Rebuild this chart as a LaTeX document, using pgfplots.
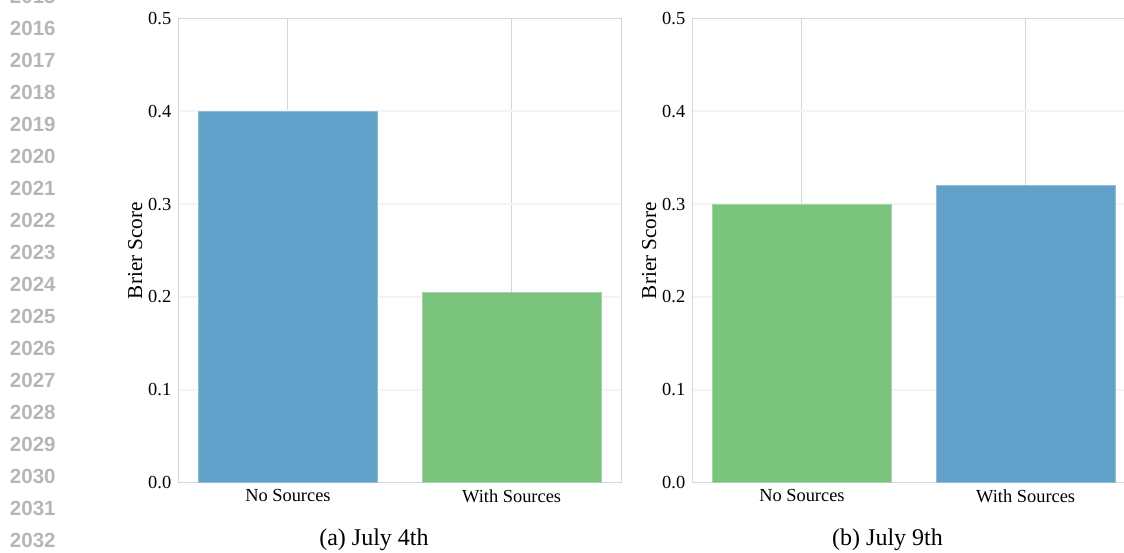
\documentclass[border=0pt]{standalone}
\usepackage{pgfplots}
\pgfplotsset{compat=1.18}
\usepackage{fontspec}
\setmainfont{Liberation Serif}
\newfontfamily\linenumfont{Liberation Sans}
\definecolor{barblue}{RGB}{98,161,201}
\definecolor{bargreen}{RGB}{121,195,125}
\definecolor{vgrid}{RGB}{214,214,214}
\definecolor{hgrid}{RGB}{244,244,244}
\definecolor{frame}{RGB}{214,214,214}
\definecolor{lnum}{RGB}{182,182,182}
\pgfplotsset{
  briers/.style={
    scale only axis,
    width=221.5pt, height=232.2pt,
    xmin=-0.49, xmax=1.49, ymin=0, ymax=0.5,
    xtick={0,1},
    xticklabels={No Sources, With Sources},
    ytick={0,0.1,0.2,0.3,0.4,0.5},
    yticklabel style={/pgf/number format/.cd, fixed, fixed zerofill, precision=1, assume math mode=true},
    ticklabel style={font=\fontsize{9.2}{10}\selectfont},
    major tick length=0pt,
    xmajorgrids, ymajorgrids,
    x grid style={color=vgrid, line width=0.5pt},
    y grid style={color=hgrid, line width=0.75pt},
    axis line style={color=frame, line width=0.6pt},
    ybar, bar width=0.8,
    ylabel={Brier Score},
    ylabel style={font=\fontsize{10.6}{12}\selectfont, at={(axis description cs:0,0.5)}, anchor=center, yshift=21.5pt},
  },
}
\begin{document}
\begin{tikzpicture}
\path[use as bounding box] (0,0) rectangle (562pt,276pt);
\clip (0,0) rectangle (562pt,276pt);
\foreach \k [count=\i from 0] in {2015,...,2032} {
  \node[anchor=base west, inner sep=0pt, text=lnum, font=\linenumfont\bfseries\fontsize{10.25}{12}\selectfont]
    at (4.8pt, {276pt - (18pt - 16pt + \i*15.975pt)}) {\k};
}
\begin{axis}[briers, at={(89.15pt,34.65pt)}, anchor=south west]
  \addplot[bar shift=0pt, fill=barblue, draw=barblue!70!white, line width=0.4pt] coordinates {(0,0.40)};
  \addplot[bar shift=0pt, fill=bargreen, draw=bargreen!70!white, line width=0.4pt] coordinates {(1,0.205)};
\end{axis}
\begin{axis}[briers, at={(346.15pt,34.65pt)}, anchor=south west]
  \addplot[bar shift=0pt, fill=bargreen, draw=bargreen!70!white, line width=0.4pt] coordinates {(0,0.30)};
  \addplot[bar shift=0pt, fill=barblue, draw=barblue!70!white, line width=0.4pt] coordinates {(1,0.32)};
\end{axis}
\node[anchor=base, font=\fontsize{12}{14}\selectfont] at (187pt,3.5pt) {(a) July 4th};
\node[anchor=base, font=\fontsize{12}{14}\selectfont] at (443.75pt,3.5pt) {(b) July 9th};
\end{tikzpicture}
\end{document}
